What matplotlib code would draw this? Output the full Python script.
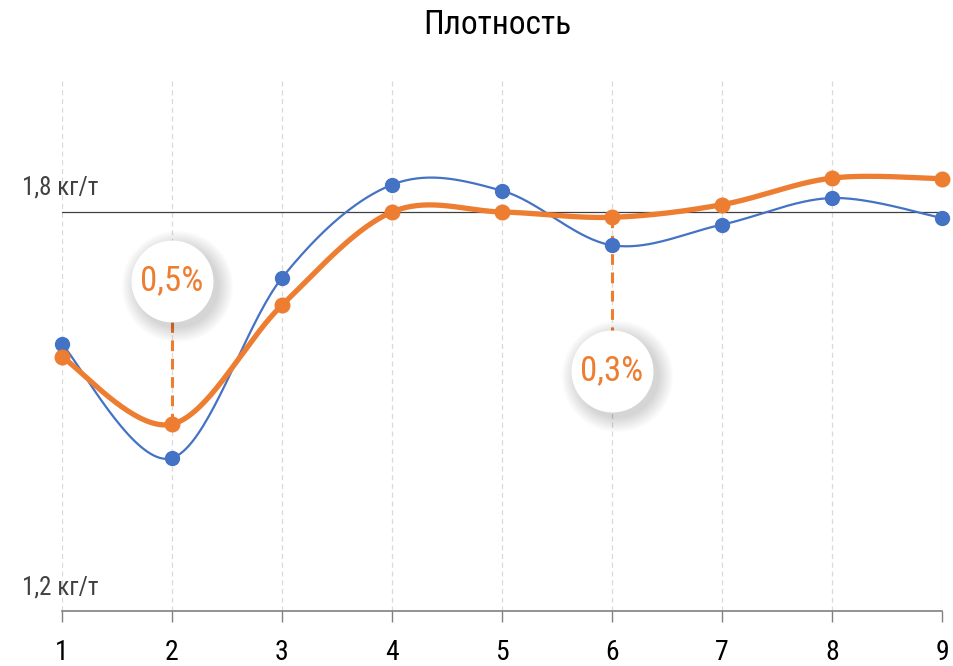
import numpy as np
import matplotlib
matplotlib.use("Agg")
import matplotlib.pyplot as plt
import matplotlib.transforms as mtransforms
from matplotlib import font_manager

# pick a narrow font if there is one
names = set(f.name for f in font_manager.fontManager.ttflist)
family = 'DejaVu Sans'
stretch = 'normal'
for cand in ['Roboto Condensed', 'Liberation Sans Narrow', 'DejaVu Sans Condensed']:
    if cand in names:
        family = cand
        break
else:
    stretch = 'condensed'
plt.rcParams['font.family'] = [family, 'DejaVu Sans']
plt.rcParams['font.stretch'] = stretch

# data
x = [1, 2, 3, 4, 5, 6, 7, 8, 9]
blue = [1.601, 1.430, 1.701, 1.841, 1.832, 1.750, 1.781, 1.821, 1.791]
orange = [1.582, 1.481, 1.660, 1.800, 1.800, 1.792, 1.811, 1.851, 1.850]
notes = ['0,5%', '0,3%']
note_x = [2, 6]
note_y = [1.696, 1.561]
ref_value = 1.8
y_labels = ['1,2 кг/т', '1,8 кг/т']
y_label_vals = [1.2, 1.8]

c_blue = '#4472C4'
c_orange = '#ED7D31'


def smooth(xs, ys, n=40):
    # excel-like smoothing (catmull-rom bezier)
    xs = np.asarray(xs, float)
    ys = np.asarray(ys, float)
    px = np.concatenate([[xs[0]], xs, [xs[-1]]])
    py = np.concatenate([[ys[0]], ys, [ys[-1]]])
    outx, outy = [], []
    t = np.linspace(0, 1, n)
    for i in range(1, len(px) - 2):
        p0 = np.array([px[i], py[i]])
        p3 = np.array([px[i + 1], py[i + 1]])
        c1 = p0 + (np.array([px[i + 1], py[i + 1]]) - np.array([px[i - 1], py[i - 1]])) / 6
        c2 = p3 - (np.array([px[i + 2], py[i + 2]]) - np.array([px[i], py[i]])) / 6
        b = ((1 - t) ** 3)[:, None] * p0 + (3 * (1 - t) ** 2 * t)[:, None] * c1 \
            + (3 * (1 - t) * t ** 2)[:, None] * c2 + (t ** 3)[:, None] * p3
        outx.extend(b[:, 0])
        outy.extend(b[:, 1])
    return outx, outy


fig = plt.figure(figsize=(9.54, 6.66), dpi=100)
ax = fig.add_axes([62 / 954, 55 / 666, 880 / 954, 532 / 666])
ax.set_xlim(1, 9)
ax.set_ylim(1.2, 2.0)

for xv in x:
    ax.axvline(xv, color='#d9d9d9', lw=0.9, ls=(0, (4, 3)), zorder=0)
ax.axhline(ref_value, color='#404040', lw=0.9, zorder=1)

sx, sy = smooth(x, blue)
ax.plot(sx, sy, color=c_blue, lw=1.6, zorder=3, solid_capstyle='round', clip_on=False)
ax.plot(x, blue, 'o', color=c_blue, ms=10, zorder=4, clip_on=False)
sx, sy = smooth(x, orange)
ax.plot(sx, sy, color=c_orange, lw=3.8, zorder=5, solid_capstyle='round', clip_on=False)
ax.plot(x, orange, 'o', color=c_orange, ms=10.5, zorder=6, clip_on=False)

# bubbles with percentages
for txt, nx, ny in zip(notes, note_x, note_y):
    oy = orange[x.index(nx)]
    ax.plot([nx, nx], [oy, ny], color=c_orange, lw=2.2, ls=(0, (3.5, 2.5)), zorder=2)
    for k in range(14, 0, -1):
        sh = mtransforms.offset_copy(ax.transData, fig=fig, x=5, y=-5, units='dots')
        ax.scatter([nx], [ny], s=(58 + 1.6 * k) ** 2, color='black', alpha=0.010,
                   lw=0, transform=sh, zorder=7)
    ax.scatter([nx], [ny], s=59 ** 2, color='white', lw=0, zorder=8)
    ax.text(nx, ny, txt, color=c_orange, fontsize=25, ha='center', va='center', zorder=9)

for lab, v in zip(y_labels, y_label_vals):
    ax.annotate(lab, xy=(0, v), xycoords=('axes fraction', 'data'), xytext=(-40, 24),
                textcoords='offset pixels', ha='left', va='center', fontsize=18, color='#404040')

for s in ['top', 'right', 'left']:
    ax.spines[s].set_visible(False)
ax.spines['bottom'].set_color('#808080')
ax.spines['bottom'].set_linewidth(1.2)
ax.set_yticks([])
ax.set_xticks(x)
ax.tick_params(axis='x', length=8, width=1, color='#808080', pad=12, labelsize=20, labelcolor='#000000')

fig.text(497 / 954, 1 - 25 / 666, 'Плотность', ha='center', va='center', fontsize=24,
         fontweight='normal', color='black')

fig.savefig('out.png', dpi=100)
